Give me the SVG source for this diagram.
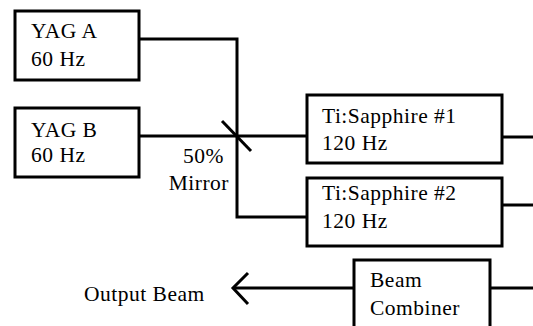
<svg xmlns="http://www.w3.org/2000/svg" width="533" height="326" viewBox="0 0 533 326">
<style>
.box{fill:#fff;stroke:#000;stroke-width:3}
.ln{fill:none;stroke:#000;stroke-width:3}
text{font-family:'Liberation Serif','DejaVu Serif',serif;font-size:21.5px;fill:#000;letter-spacing:0.5px}
</style>
<rect width="533" height="326" fill="#fff"/>
<g id="connectors">
<polyline class="ln" points="139,39 237,39 237,217 307,217"/>
<line class="ln" x1="139" y1="136" x2="307" y2="136"/>
<line class="ln" x1="222" y1="121" x2="251" y2="151"/>
<line class="ln" x1="502" y1="137" x2="533" y2="137"/>
<line class="ln" x1="502" y1="205" x2="533" y2="205"/>
<line class="ln" x1="490" y1="288" x2="533" y2="288"/>
<line class="ln" x1="234" y1="288" x2="354" y2="288"/>
<polyline class="ln" points="248,273 233,288 248,304"/>
</g>
<g id="yagA"><rect class="box" x="15" y="11" width="124" height="69"/><text x="31" y="38">YAG A</text><text x="31" y="66">60 Hz</text></g>
<g id="yagB"><rect class="box" x="15" y="108" width="124" height="69"/><text x="31" y="137">YAG B</text><text x="31" y="162">60 Hz</text></g>
<g id="mirror"><text x="224" y="163" text-anchor="end">50%</text><text x="229" y="190" text-anchor="end">Mirror</text></g>
<g id="ti1"><rect class="box" x="307" y="95" width="195" height="68"/><text x="322" y="123">Ti:Sapphire #1</text><text x="322" y="150">120 Hz</text></g>
<g id="ti2"><rect class="box" x="307" y="178" width="195" height="68"/><text x="322" y="200">Ti:Sapphire #2</text><text x="322" y="228">120 Hz</text></g>
<g id="combiner"><rect class="box" x="354" y="260" width="136" height="75"/><text x="370" y="287">Beam</text><text x="370" y="315">Combiner</text></g>
<g id="output"><text x="84" y="301">Output Beam</text></g>
</svg>
